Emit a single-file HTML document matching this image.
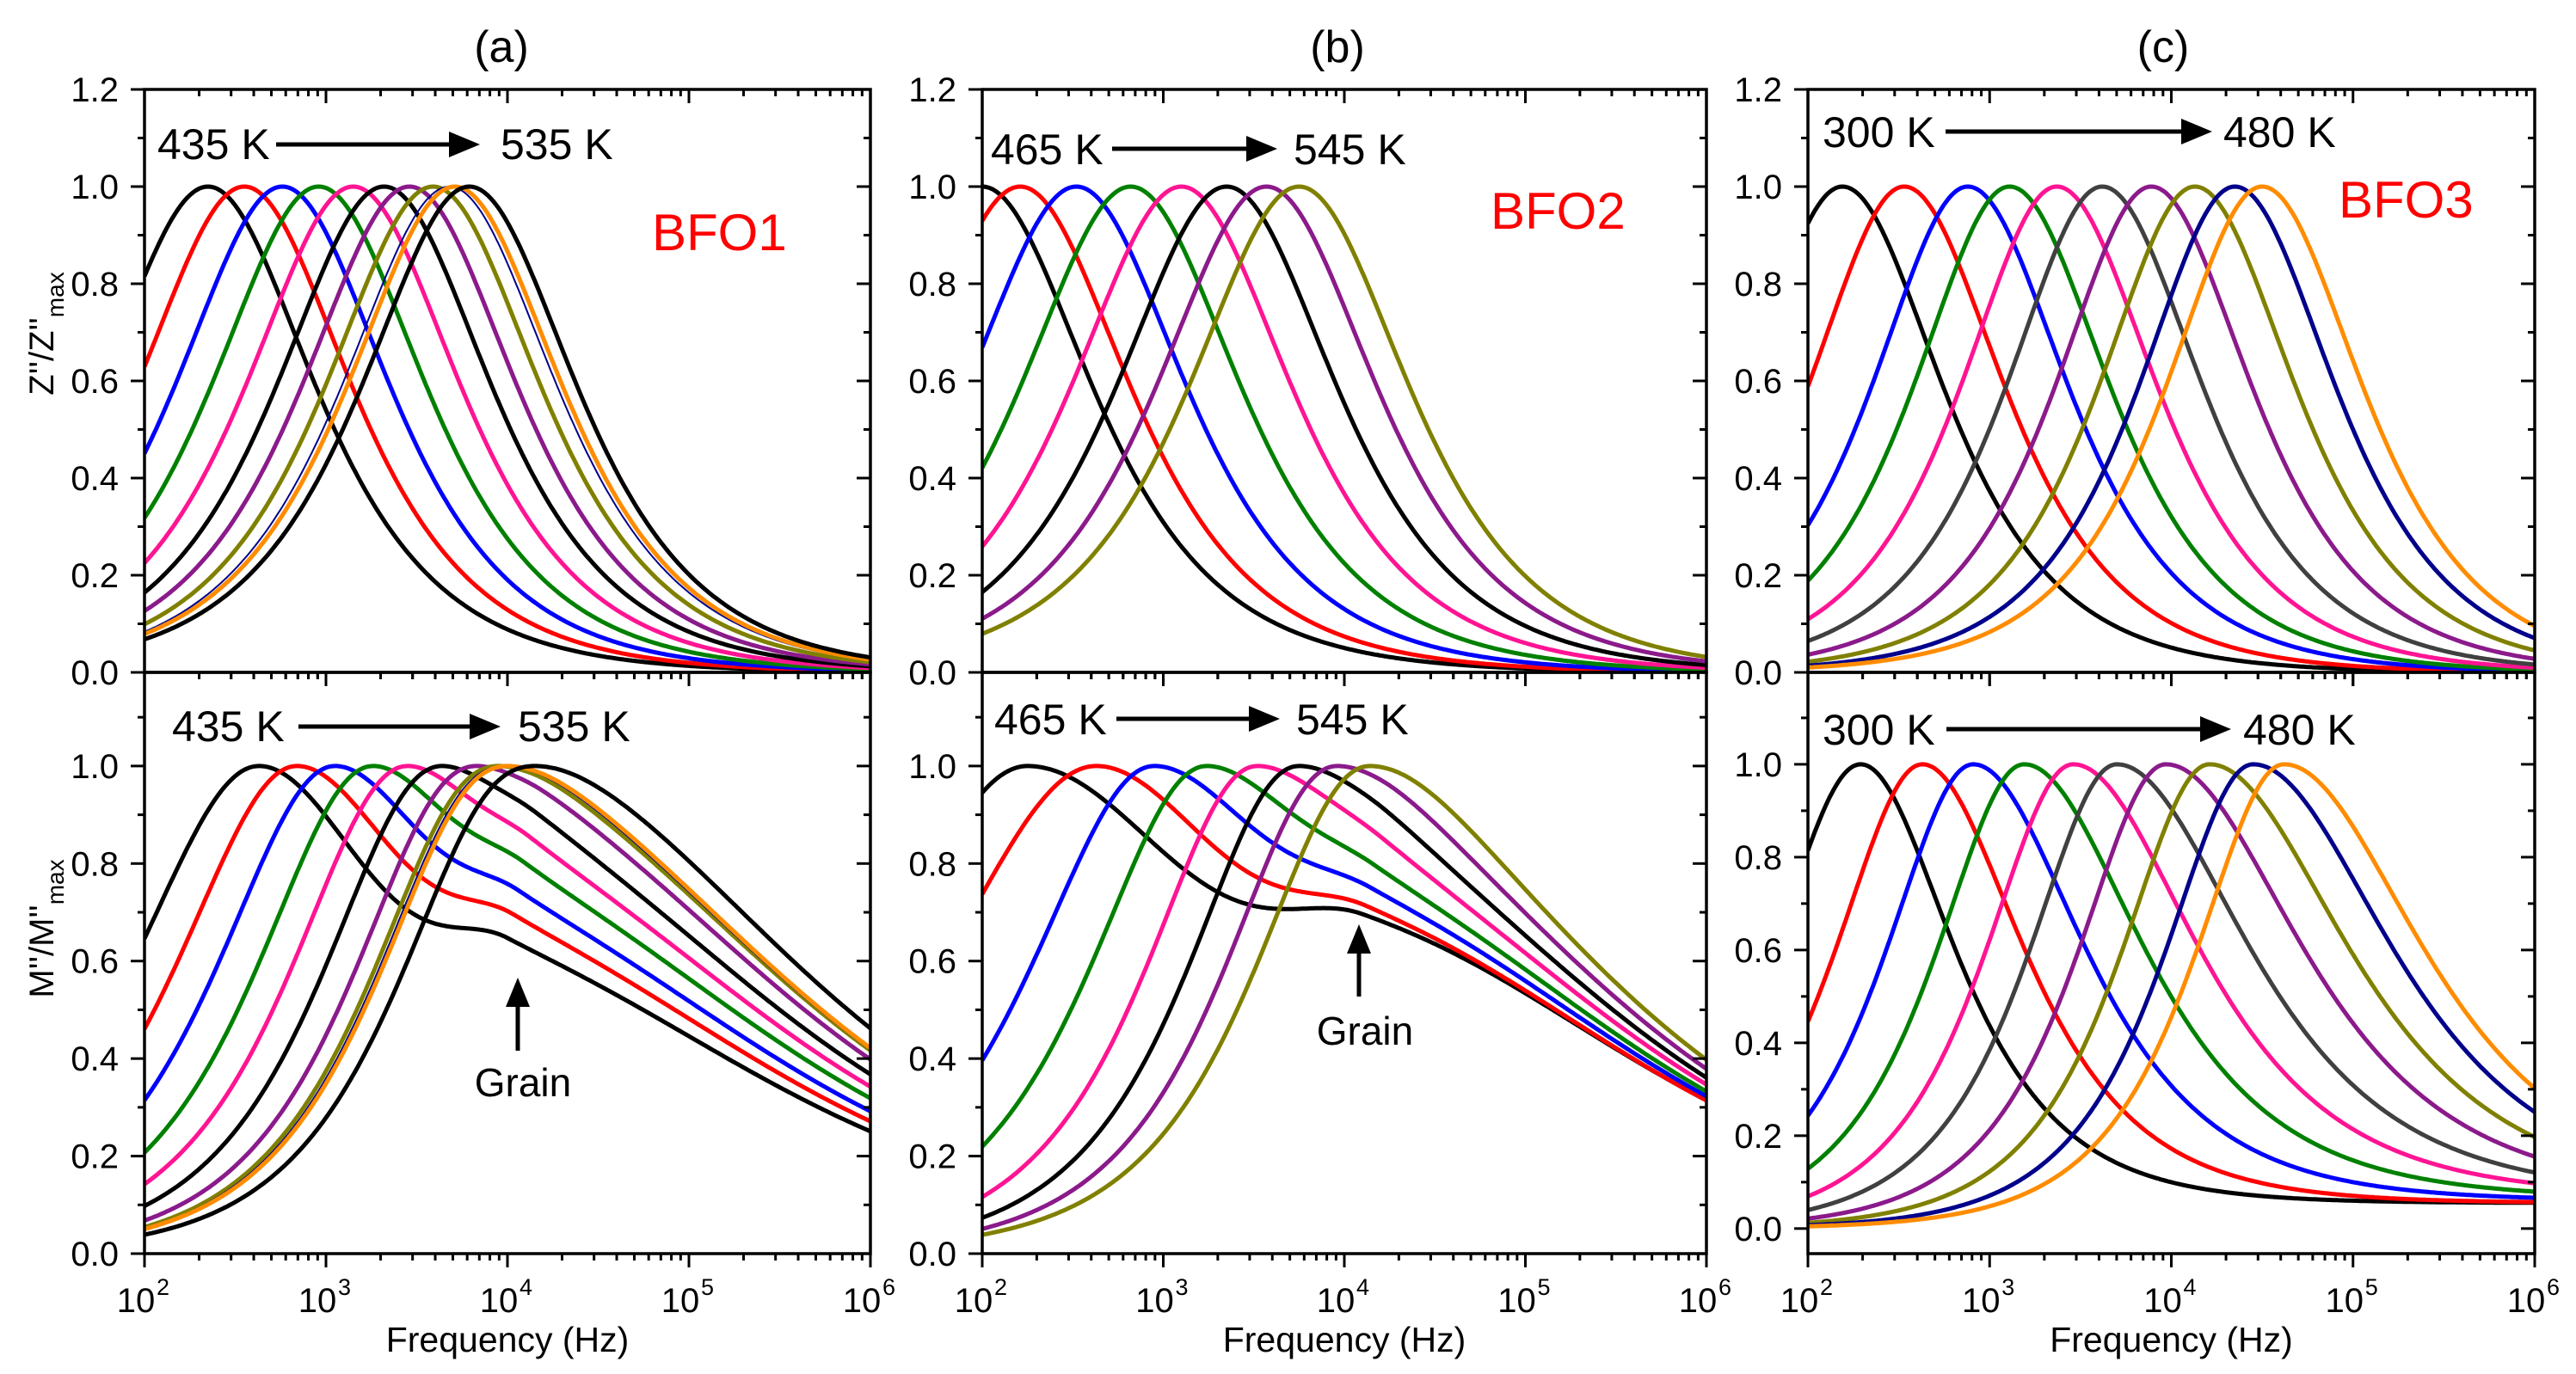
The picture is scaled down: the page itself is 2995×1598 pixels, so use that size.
<!DOCTYPE html>
<html><head><meta charset="utf-8"><style>
html,body{margin:0;padding:0;background:#fff}
svg{display:block}
text{font-family:"Liberation Sans",Arial,sans-serif}
</style></head><body>
<svg id="fig" width="2995" height="1598" viewBox="0 0 2995 1598" xmlns="http://www.w3.org/2000/svg"></svg>
<script>
// ---------- data ----------
const xTickExps = [2,3,4,5,6];
const yTicksTop = ["0.0","0.2","0.4","0.6","0.8","1.0","1.2"];
const yTicksBottom = ["0.0","0.2","0.4","0.6","0.8","1.0"];

// Panel (a) top: Z''/Z''max peak frequencies (log10 Hz)
const aTopPeaks = [2.35,2.55,2.76,2.96,3.15,3.32,3.46,3.59,3.68,3.71,3.79];
const aColors = ["#000000","#ff0000","#0000ff","#008000","#ff1493","#000000","#8b1a8b","#808000","#00008b","#ff8c00","#000000"];
const aWidths = [5,5,5,5,5,5,5,5,2,5,5];
// Panel (a) bottom: M''/M''max main peak + grain shoulder
const aBotPeaks = [2.63,2.84,3.05,3.26,3.45,3.64,3.83,3.95,3.98,4.0,4.15];
const aBotLeftWidth = [0.70,0.74,0.77,0.80,0.82,0.84,0.86,0.87,0.87,0.87,0.88];
const aBotRightWidth = [0.6,0.62,0.65,0.68,0.7,0.72,0.75,0.78,0.78,0.78,0.8];
const aBotGrainAmp = [0.5,0.53,0.56,0.6,0.63,0.66,0.7,0.72,0.72,0.72,0.76];
const aBotGrainLog = [4.0,4.03,4.06,4.09,4.12,4.15,4.18,4.21,4.21,4.22,4.28];

// Panel (b)
const bTopPeaks = [2.0,2.21,2.52,2.82,3.10,3.35,3.57,3.75];
const bColors = ["#000000","#ff0000","#0000ff","#008000","#ff1493","#000000","#8b1a8b","#808000"];
const bBotPeaks = [2.25,2.63,2.95,3.24,3.52,3.75,3.96,4.14];
const bBotLeftWidth = [0.6,0.58,0.75,0.82,0.9,0.95,1.0,1.05];
const bBotRightWidth = [0.42,0.5,0.55,0.6,0.63,0.66,0.68,0.7];
const bBotGrainAmp = [0.55,0.56,0.57,0.58,0.58,0.58,0.58,0.58];
const bBotGrainLog = [4.1,4.12,4.14,4.16,4.2,4.24,4.28,4.32];

// Panel (c)
const cTopPeaks = [2.19,2.53,2.88,3.11,3.37,3.62,3.89,4.13,4.35,4.50];
const cColors = ["#000000","#ff0000","#0000ff","#008000","#ff1493","#404040","#8b1a8b","#808000","#00008b","#ff8c00"];
const cBotPeaks = [2.29,2.63,2.91,3.19,3.46,3.70,3.97,4.21,4.45,4.62];
const cBotRightWidth = [0.95,0.88,0.8,0.75,0.72,0.68,0.66,0.65,0.65,0.65];
const cBotBase = [0.055,0.055,0.06,0.065,0.07,0.07,0.07,0.07,0.07,0.07];

// ---------- helpers ----------
const svg = document.getElementById('fig');
const NS = "http://www.w3.org/2000/svg";
function mk(tag, attrs, parent){
  const e = document.createElementNS(NS, tag);
  for (const k in attrs) e.setAttribute(k, attrs[k]);
  (parent||svg).appendChild(e);
  return e;
}
function peak(lx, lp, kL, kR){ const d = lx-lp; const k = d<0?kL:kR; return 1/Math.cosh(k*Math.LN10*d); }
function twoPeak(lx, lp, kL, kR, A, lg, gL, gR){
  const m = peak(lx,lp,kL,kR);
  return m + A*peak(lx,lg,gL,gR)*(1-m);
}

const TOP = {y0:104, y1:782, min:0, max:1.2};
const BOT = {y0:782, y1:1458, min:0, max:1.192};
const BOTC = {y0:782, y1:1458, min:-0.054, max:1.198};
const PANELS = [{x0:168,x1:1012},{x0:1142,x1:1984},{x0:2102,x1:2947}];

function xs(p, lx){ return p.x0 + (lx-2)/4*(p.x1-p.x0); }
function ys(r, v){ return r.y1 - (v-r.min)/(r.max-r.min)*(r.y1-r.y0); }

let clipId = 0;
function drawAxes(p, r, labels, isBottom){
  const g = mk('g', {});
  
  
  for (let e=2; e<6; e++){
    for (let m=1; m<10; m++){
      const lx = e+Math.log10(m);
      const X = xs(p,lx);
      const len = m===1?16:8;
      mk('line',{x1:X,y1:r.y1,x2:X,y2:r.y1+len,stroke:'#000','stroke-width':3},g);
      mk('line',{x1:X,y1:r.y0,x2:X,y2:r.y0+len,stroke:'#000','stroke-width':3},g);
    }
  }
  const Xe = xs(p,6);
  mk('line',{x1:Xe,y1:r.y1,x2:Xe,y2:r.y1+16,stroke:'#000','stroke-width':3},g);
  for (let v=0; v<=1.2001; v+=0.1){
    const Y = ys(r, v);
    if (Y < r.y0-1 || Y > r.y1+1) continue;
    const major = Math.round(v*10)%2===0;
    const len = major?16:8;
    mk('line',{x1:p.x0,y1:Y,x2:p.x0-len,y2:Y,stroke:'#000','stroke-width':3},g);
    mk('line',{x1:p.x1,y1:Y,x2:p.x1-len,y2:Y,stroke:'#000','stroke-width':3},g);
  }
  labels.forEach((t)=>{
    const v = parseFloat(t);
    const tx = mk('text',{x:p.x0-30,y:ys(r,v)+14,'text-anchor':'end','font-size':40,fill:'#000'},g);
    tx.textContent = t;
    
    
  });
  mk('rect',{x:p.x0,y:r.y0,width:p.x1-p.x0,height:r.y1-r.y0,fill:'none',stroke:'#000','stroke-width':3.5},g);
  if (isBottom){
    xTickExps.forEach(e=>{
      const X = xs(p,e);
      const t = mk('text',{x:X-10,y:1526,'text-anchor':'middle','font-size':40,fill:'#000'});
      
      
      t.textContent = '10';
      const s = mk('text',{x:X+14,y:1506,'text-anchor':'start','font-size':27,fill:'#000'});
      
      
      s.textContent = String(e);
    });
    const t = mk('text',{x:(p.x0+p.x1)/2,y:1572,'text-anchor':'middle','font-size':41,fill:'#000'});
    
    
    t.textContent = 'Frequency (Hz)';
  }
}
function clipFor(p, r){
  const id = 'c'+(clipId++);
  const cp = mk('clipPath',{id:id});
  mk('rect',{x:p.x0,y:r.y0,width:p.x1-p.x0,height:r.y1-r.y0},cp);
  return id;
}
function drawCurve(p, r, fn, color, w, clip, name){
  let d = '';
  for (let i=0;i<=400;i++){
    const lx = 2 + 4*i/400;
    const X = xs(p,lx), Y = ys(r, fn(lx));
    d += (i?'L':'M')+X.toFixed(1)+' '+Y.toFixed(1);
  }
  const path = mk('path',{d:d,fill:'none',stroke:color,'stroke-width':w,'clip-path':'url(#'+clip+')','stroke-linejoin':'round'});
  
  
}
function text(x,y,s,size,color,name,anchor){
  const t = mk('text',{x:x,y:y,'font-size':size,fill:color,'text-anchor':anchor||'start'});
  
  
  t.textContent = s;
  return t;
}
function arrowH(x1,x2,y,name){
  const g = mk('g',{});
  
  
  mk('line',{x1:x1,y1:y,x2:x2-30,y2:y,stroke:'#000','stroke-width':5},g);
  mk('polygon',{points:`${x2},${y} ${x2-36},${y-15} ${x2-36},${y+15}`,fill:'#000'},g);
}
function arrowUp(x,y1,y2,name){
  const g = mk('g',{});
  
  
  mk('line',{x1:x,y1:y1,x2:x,y2:y2+30,stroke:'#000','stroke-width':5},g);
  mk('polygon',{points:`${x},${y2} ${x-14},${y2+34} ${x+14},${y2+34}`,fill:'#000'},g);
}

// ---------- panel (a) ----------
let P = PANELS[0], cl;
cl = clipFor(P, TOP);
aTopPeaks.forEach((lp,i)=> drawCurve(P, TOP, lx=>peak(lx,lp,0.82,0.82), aColors[i], aWidths[i], cl, 'z-curve-a-'+i));
cl = clipFor(P, BOT);
aBotPeaks.forEach((lp,i)=>{
  drawCurve(P, BOT, lx=>twoPeak(lx,lp,aBotLeftWidth[i],aBotRightWidth[i],aBotGrainAmp[i],aBotGrainLog[i],0.9,0.3), aColors[i], aWidths[i], cl, 'm-curve-a-'+i);
});
drawAxes(P, TOP, yTicksTop, false);
drawAxes(P, BOT, yTicksBottom, true);

// ---------- panel (b) ----------
P = PANELS[1];
cl = clipFor(P, TOP);
bTopPeaks.forEach((lp,i)=> drawCurve(P, TOP, lx=>peak(lx,lp,0.8,0.8), bColors[i], 5, cl, 'z-curve-b-'+i));
cl = clipFor(P, BOT);
bBotPeaks.forEach((lp,i)=>{
  drawCurve(P, BOT, lx=>twoPeak(lx,lp,bBotLeftWidth[i],bBotRightWidth[i],bBotGrainAmp[i],bBotGrainLog[i],0.7,0.3), bColors[i], 5, cl, 'm-curve-b-'+i);
});
drawAxes(P, TOP, yTicksTop, false);
drawAxes(P, BOT, yTicksBottom, true);

// ---------- panel (c) ----------
P = PANELS[2];
cl = clipFor(P, TOP);
cTopPeaks.forEach((lp,i)=> drawCurve(P, TOP, lx=>peak(lx,lp,0.92,0.88), cColors[i], 5, cl, 'z-curve-c-'+i));
cl = clipFor(P, BOTC);
cBotPeaks.forEach((lp,i)=>{
  const b = cBotBase[i];
  drawCurve(P, BOTC, lx=>{
    const m = peak(lx,lp,1.0,cBotRightWidth[i]);
    const h = 1/(1+Math.pow(10,-2*(lx-lp)));
    return m + b*h*(1-m);
  }, cColors[i], 5, cl, 'm-curve-c-'+i);
});
drawAxes(P, TOP, yTicksTop, false);
drawAxes(P, BOTC, yTicksBottom, true);

// ---------- annotations ----------
text(583,72,'(a)',52,'#000','panel-label-a','middle');
text(1555,72,'(b)',52,'#000','panel-label-b','middle');
text(2515,72,'(c)',52,'#000','panel-label-c','middle');

text(183,185,'435 K',50,'#000','temp-start-a-top');
arrowH(321,558,168,'temp-arrow-a-top');
text(582,185,'535 K',50,'#000','temp-end-a-top');
text(758,291,'BFO1',60,'#ff0000','sample-label-bfo1');

text(200,862,'435 K',50,'#000','temp-start-a-bottom');
arrowH(347,582,845,'temp-arrow-a-bottom');
text(602,862,'535 K',50,'#000','temp-end-a-bottom');
arrowUp(602,1222,1137,'grain-arrow-a');
text(608,1275,'Grain',46,'#000','grain-label-a','middle');

text(1152,191,'465 K',50,'#000','temp-start-b-top');
arrowH(1293,1485,173,'temp-arrow-b-top');
text(1504,191,'545 K',50,'#000','temp-end-b-top');
text(1733,266,'BFO2',60,'#ff0000','sample-label-bfo2');

text(1156,854,'465 K',50,'#000','temp-start-b-bottom');
arrowH(1298,1488,836,'temp-arrow-b-bottom');
text(1507,854,'545 K',50,'#000','temp-end-b-bottom');
arrowUp(1580,1159,1075,'grain-arrow-b');
text(1587,1215,'Grain',46,'#000','grain-label-b','middle');

text(2119,171,'300 K',50,'#000','temp-start-c-top');
arrowH(2262,2572,153,'temp-arrow-c-top');
text(2585,171,'480 K',50,'#000','temp-end-c-top');
text(2719,253,'BFO3',60,'#ff0000','sample-label-bfo3');

text(2119,866,'300 K',50,'#000','temp-start-c-bottom');
arrowH(2263,2594,848,'temp-arrow-c-bottom');
text(2608,866,'480 K',50,'#000','temp-end-c-bottom');

function ytitle(cy, main, name){
  const t = mk('text',{transform:`translate(62,${cy}) rotate(-90)`,'text-anchor':'middle','font-size':40,fill:'#000'});
  
  
  const s1 = mk('tspan',{},t); s1.textContent = main;
  const s2 = mk('tspan',{'font-size':28,dy:12},t); s2.textContent = 'max';
}
ytitle(388, "Z''/Z''", 'y-axis-title-top');
ytitle(1080, "M''/M''", 'y-axis-title-bottom');
</script>
</body></html>
